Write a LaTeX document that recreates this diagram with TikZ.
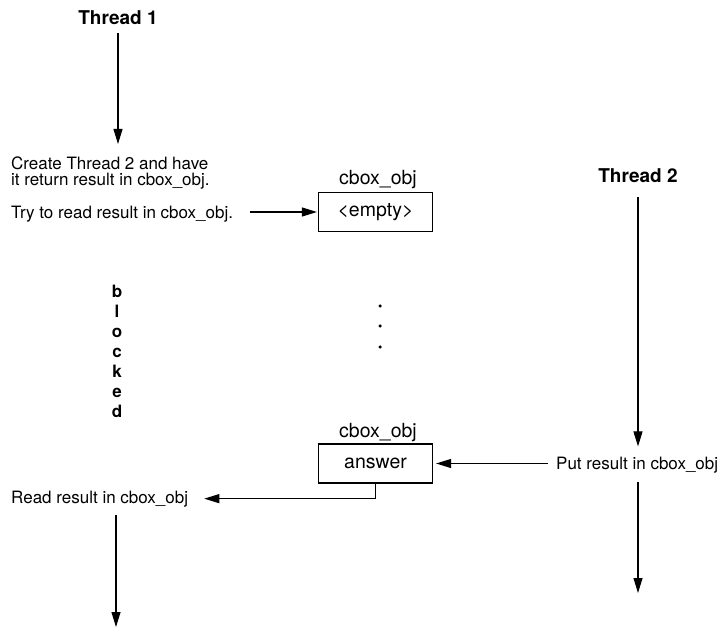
\documentclass[tikz,border=0pt]{standalone}
\usepackage{fontspec}
\setmainfont{TeX Gyre Heros}
\usetikzlibrary{arrows.meta,positioning,calc}
\tikzset{
  thr/title/.style={font=\fontsize{19}{21}\selectfont\bfseries, inner sep=0pt},
  thr/note/.style={font=\fontsize{17}{16}\selectfont, inner sep=0pt, align=left},
  thr/blocked/.style={font=\fontsize{17}{20}\selectfont\bfseries, inner sep=0pt, align=center},
  thr/box/.style={draw, line width=1.2pt, minimum width=114pt, minimum height=39pt, inner sep=0pt, font=\fontsize{19.5}{21}\selectfont},
  thr/boxlabel/.style={font=\fontsize{19.5}{21}\selectfont, inner sep=0pt},
  thr/arrow/.style={-{Triangle[length=15pt,width=9pt]}, line width=1.1pt},
  thr/dot/.style={circle, fill, inner sep=0pt, minimum size=3.5pt}
}

\begin{document}
\begin{tikzpicture}[x=1pt,y=-1pt]
  \useasboundingbox (0,0) rectangle (723,628);
  % thread 1 side
  \node[thr/title,anchor=base] (t1) at (118,25) {Thread 1};
  \node[thr/note,anchor=north west] (create) at (11,157) {Create Thread 2 and have\\it return result in cbox\_obj.};
  \node[thr/note,anchor=base west] (try) at (11,219) {Try to read result in cbox\_obj.};
  \node[thr/blocked,anchor=north] (blocked) at (117,285) {b\\l\\o\\c\\k\\e\\d};
  \node[thr/note,anchor=base west] (read) at (11,503) {Read result in cbox\_obj};
  \coordinate (t1end) at (116,627);

  % the cbox_obj
  \node[thr/boxlabel,anchor=base] (lbl1) at (378,185) {cbox\_obj};
  \node[thr/box] (empty) at (375.5,212) {<empty>};
  \foreach \y/\name in {306/d1,326/d2,347/d3}
    \node[thr/dot] (\name) at (380,\y) {};
  \node[thr/boxlabel,anchor=base] (lbl2) at (378,437) {cbox\_obj};
  \node[thr/box] (answer) at (375.5,463.5) {answer};

  % thread 2 side
  \node[thr/title,anchor=base] (t2) at (638,183) {Thread 2};
  \node[thr/note,anchor=base west] (put) at (556,469) {Put result in cbox\_obj};
  \coordinate (t2end) at (638,593);

  \draw[thr/arrow,shorten <=8pt,shorten >=13pt] (t1.south) -- (t1.south |- create.north);
  \draw[thr/arrow,shorten <=17pt,shorten >=1pt] (try.east |- empty) -- (empty.west);
  \draw[thr/arrow,shorten <=14pt,shorten >=10pt] (t2.south) -- (t2.south |- put.north);
  \draw[thr/arrow,shorten <=8pt,shorten >=3pt] (put.west |- answer) -- (answer.east);
  \draw[thr/arrow,shorten >=16pt] (answer.south) |- (read.east);
  \draw[thr/arrow,shorten <=8pt] (read.south -| t1end) -- (t1end);
  \draw[thr/arrow,shorten <=9pt] (put.south -| t2end) -- (t2end);
\end{tikzpicture}
\end{document}
